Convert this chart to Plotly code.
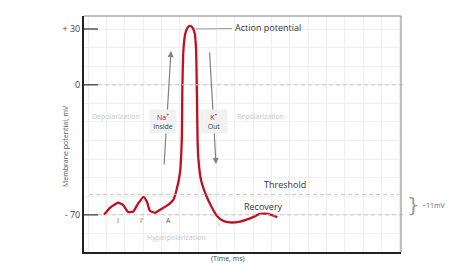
import plotly.graph_objects as go

# ---------------- data ----------------
# time in grid units (arbitrary ms), membrane potential in mV
time_ms = [0.86, 1.18, 1.62, 1.89, 2.17, 2.43, 2.71, 3.01, 3.20, 3.36, 3.64, 3.91,
           4.35, 4.64, 4.81, 5.00, 5.10, 5.13, 5.19, 5.29, 5.42, 5.55, 5.68,
           5.81, 5.88, 5.93, 5.96, 6.01, 6.15, 6.46, 6.75, 7.01, 7.35, 7.73,
           8.28, 8.99, 9.37, 9.80, 10.31]
membrane_mv = [-70.0, -66.2, -63.5, -64.6, -68.4, -68.4, -64.1, -60.3, -63.0, -67.8,
               -68.9, -67.3, -64.6, -61.9, -56.8, -47.4, -29.7, -2.8, 18.7, 27.5,
               30.8, 31.7, 30.8, 27.5, 18.7, -8.2, -29.7, -40.4,
               -51.2, -60.3, -66.2, -70.5, -73.2, -74.1, -73.6, -71.2, -69.5, -69.5, -71.2]

tick_vals = [30, 0, -70]
tick_text = ["+ 30", "0", "- 70"]
threshold_mv = -59
resting_mv = -70

W, H = 474, 275
L, R, T, B = 84, 401, 16, 252  # plot area in px


def px(x):
    return (x - L) / (R - L)


def py(y):
    return (B - y) / (B - T)


RED = "#c20f1f"
FONT = "Open Sans"

fig = go.Figure()
fig.add_trace(go.Scatter(x=time_ms, y=membrane_mv, mode="lines",
                         line=dict(color=RED, width=2.3, shape="spline", smoothing=0.5),
                         hoverinfo="skip", showlegend=False))

shapes = []
# tick marks
for v in tick_vals:
    shapes.append(dict(type="line", xref="paper", yref="y", x0=0, x1=px(98), y0=v, y1=v,
                       line=dict(color="#555555", width=1.5)))
# dashed reference lines
shapes.append(dict(type="line", xref="paper", yref="y", x0=px(98), x1=px(405), y0=0, y1=0,
                   line=dict(color="#c4c4c4", width=1, dash="4px,3px")))
shapes.append(dict(type="line", xref="paper", yref="y", x0=px(89), x1=px(403),
                   y0=threshold_mv, y1=threshold_mv,
                   line=dict(color="#c4c4c4", width=1, dash="4px,3px")))
shapes.append(dict(type="line", xref="paper", yref="y", x0=px(98), x1=px(403),
                   y0=resting_mv, y1=resting_mv,
                   line=dict(color="#c4c4c4", width=1, dash="4px,3px")))
# top and right border
shapes.append(dict(type="line", xref="paper", yref="paper", x0=0, x1=1, y0=1, y1=1,
                   line=dict(color="#aaaaaa", width=1.5)))
shapes.append(dict(type="line", xref="paper", yref="paper", x0=1, x1=1, y0=0, y1=1,
                   line=dict(color="#aaaaaa", width=1.5)))
# action potential connector
shapes.append(dict(type="line", xref="paper", yref="paper", x0=px(194), x1=px(232),
                   y0=py(29), y1=py(28.5), line=dict(color="#999999", width=1)))

ann = []
def text(x, y, s, size=7, color="#333", xanchor="center", **kw):
    ann.append(dict(x=px(x), y=py(y), xref="paper", yref="paper", text=s, showarrow=False,
                    font=dict(size=size, color=color, family=FONT), xanchor=xanchor,
                    yanchor="middle", **kw))

# arrows (tail offsets in pixels)
ann.append(dict(x=px(171), y=py(51), ax=-7, ay=115, xref="paper", yref="paper",
                axref="pixel", ayref="pixel", showarrow=True, arrowhead=2, arrowsize=1,
                arrowwidth=1.2, arrowcolor="#808080", text=""))
ann.append(dict(x=px(216), y=py(164), ax=-6.5, ay=-113, xref="paper", yref="paper",
                axref="pixel", ayref="pixel", showarrow=True, arrowhead=2, arrowsize=1,
                arrowwidth=1.2, arrowcolor="#808080", text=""))
# ion boxes
ann.append(dict(x=px(163), y=py(121.5), xref="paper", yref="paper", showarrow=False,
                text="<span style='color:%s'>Na<sup>+</sup></span><br>Inside" % RED,
                font=dict(size=7, color="#444", family=FONT), bgcolor="#f1f1f1",
                borderpad=1, width=24, height=21, xanchor="center", yanchor="middle"))
ann.append(dict(x=px(213.5), y=py(121.5), xref="paper", yref="paper", showarrow=False,
                text="<span style='color:%s'>K<sup>+</sup></span><br>Out" % RED,
                font=dict(size=7, color="#444", family=FONT), bgcolor="#f1f1f1",
                borderpad=1, width=24, height=21, xanchor="center", yanchor="middle"))

text(90, 116, "Depolarization", size=7, color="#c6c6c6", xanchor="left")
text(235, 116, "Repolarization", size=7, color="#c6c6c6", xanchor="left")
text(145, 237, "Hyperpolarization", size=7, color="#c6c6c6", xanchor="left")
text(233, 28, "Action potential", size=9, color="#333", xanchor="left")
text(262, 184, "Threshold", size=9, color="#333", xanchor="left")
text(242, 206, "Recovery", size=9, color="#333", xanchor="left")
text(118, 220, "I", size=7, color="#666")
text(142, 220, "I'", size=7, color="#666")
text(168, 220, "A", size=7, color="#555")
text(219, 224, "ı", size=6, color="#888")
text(228, 258, "(Time, ms)", size=7, color="#444")
ann.append(dict(x=px(413), y=py(204.5), xref="paper", yref="paper", text="}", showarrow=False,
                font=dict(size=20, color="#9a9a9a", family="DejaVu Sans"),
                xanchor="center", yanchor="middle"))
text(420, 205, "~11mV", size=7, color="#666", xanchor="left")
ann.append(dict(x=px(65), y=py(146), xref="paper", yref="paper", showarrow=False,
                text="Membrane potential, mV", textangle=-90,
                font=dict(size=7, color="#555", family=FONT),
                xanchor="center", yanchor="middle"))

fig.update_layout(
    width=W, height=H,
    margin=dict(l=L, r=W - R, t=T, b=H - B, pad=0),
    paper_bgcolor="white", plot_bgcolor="white",
    shapes=shapes, annotations=ann,
    font=dict(family=FONT),
    xaxis=dict(range=[-0.235, 17.06], showticklabels=False, ticks="", showgrid=True,
               gridcolor="#efefef", gridwidth=1, tick0=0, dtick=1, zeroline=False,
               showline=True, linecolor="#222", linewidth=2),
    yaxis=dict(range=[-90, 37], tickmode="array", tickvals=tick_vals, ticktext=tick_text,
               ticks="", tickfont=dict(size=9, color="#444", family=FONT),
               showgrid=True, gridcolor="#efefef", zeroline=False,
               minor=dict(tickmode="linear", tick0=0, dtick=10, showgrid=True,
                          gridcolor="#efefef", ticklen=0),
               showline=True, linecolor="#222", linewidth=2),
)

fig.write_html("out.html")
